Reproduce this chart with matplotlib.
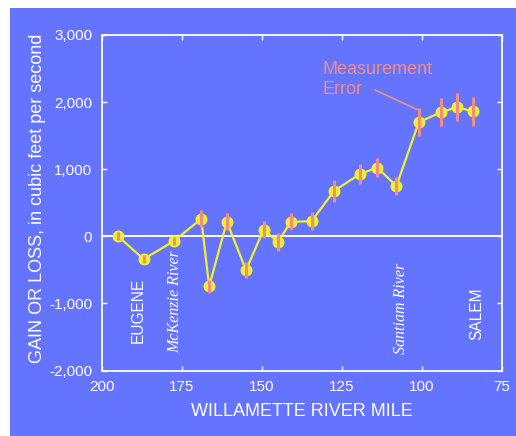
import matplotlib
matplotlib.use("Agg")
import matplotlib.pyplot as plt
from matplotlib.patches import Rectangle

plt.rcParams['font.family'] = ['Liberation Sans', 'DejaVu Sans']

# Gain or loss of streamflow along the Willamette River
river_mile = [195, 187, 177.5, 169, 166.5, 161, 155, 149.5, 145, 141,
              134.5, 127.5, 119.5, 114, 108, 101, 94, 89, 84]
gain_loss = [0, -340, -70, 260, -745, 220, -505, 100, -85, 215,
             225, 675, 925, 1025, 750, 1700, 1850, 1925, 1860]
meas_error = [60, 60, 65, 125, 100, 125, 115, 130, 135, 125,
              135, 165, 150, 140, 140, 210, 210, 210, 210]

x_ticks = [200, 175, 150, 125, 100, 75]
y_ticks = [-2000, -1000, 0, 1000, 2000, 3000]
y_tick_labels = ['-2,000', '-1,000', '0', '1,000', '2,000', '3,000']

# Places along the river, written vertically inside the plot
places = ['EUGENE', 'McKenzie River', 'Santiam River', 'SALEM']
place_mile = [188.6, 177.2, 106.7, 82.9]
place_value = [-1104, -978, -1067, -1149]
place_serif = [False, True, True, False]

BLUE = '#6574FE'
YELLOW = '#F2F02A'
SALMON = '#F48C84'
WHITE = 'white'

W, H = 516, 436
fig = plt.figure(figsize=(W / 100, H / 100), dpi=100, facecolor='white')
fig.patches.append(Rectangle((10 / W, 0), 1 - 10 / W, 1 - 8 / H,
                             transform=fig.transFigure, facecolor=BLUE,
                             edgecolor='none', zorder=-10))

ax = fig.add_axes([102 / W, 1 - 370.5 / H, 400 / W, 335.5 / H])
ax.set_facecolor(BLUE)

ax.axhline(0, color=WHITE, lw=1.4, zorder=1)
ax.plot(river_mile, gain_loss, color=YELLOW, lw=1.6, marker='o',
        markersize=7.6, markerfacecolor=YELLOW, markeredgecolor=YELLOW,
        zorder=2)
ax.errorbar(river_mile, gain_loss, yerr=meas_error, fmt='none',
            ecolor=SALMON, elinewidth=2.2, capsize=0, zorder=3)

ax.set_xlim(200, 75)
ax.set_ylim(-2000, 3000)
ax.set_xticks(x_ticks)
ax.set_xticklabels([str(t) for t in x_ticks])
ax.set_yticks(y_ticks)
ax.set_yticklabels(y_tick_labels)

for side in ax.spines.values():
    side.set_color(WHITE)
    side.set_linewidth(1.3)
ax.tick_params(direction='in', top=True, right=True, length=3.5, width=1,
               color=WHITE, labelcolor=WHITE, labelsize=11)
ax.tick_params(axis='x', pad=7)
ax.tick_params(axis='y', pad=7)

for name, xm, yv, serif in zip(places, place_mile, place_value, place_serif):
    if serif:
        ax.text(xm, yv, name, rotation=90, ha='center', va='center',
                color=WHITE, fontsize=11.5, fontstyle='italic',
                family=['Liberation Serif', 'DejaVu Serif'])
    else:
        ax.text(xm, yv, name, rotation=90, ha='center', va='center',
                color=WHITE, fontsize=11.2)

# Callout pointing at the error bar of the first Santiam point
fig.text(322 / W, 1 - 73.5 / H, 'Measurement', ha='left', va='baseline',
         color=SALMON, fontsize=13)
fig.text(322 / W, 1 - 93.5 / H, 'Error', ha='left', va='baseline',
         color=SALMON, fontsize=13)
ax.annotate('', xy=(river_mile[15], gain_loss[15] + meas_error[15] * 0.85),
            xytext=(375 / W, 1 - 90 / H), textcoords='figure fraction',
            arrowprops=dict(arrowstyle='-', color=SALMON, lw=1.2,
                            shrinkA=0, shrinkB=0))

fig.text(37.5 / W, 1 - 198 / H, 'GAIN OR LOSS, in cubic feet per second',
         rotation=90, ha='center', va='center', color=WHITE, fontsize=13)
fig.text(302 / W, 1 - 411 / H, 'WILLAMETTE RIVER MILE',
         ha='center', va='center', color=WHITE, fontsize=13)

fig.savefig('out.png', dpi=100, facecolor=fig.get_facecolor())
